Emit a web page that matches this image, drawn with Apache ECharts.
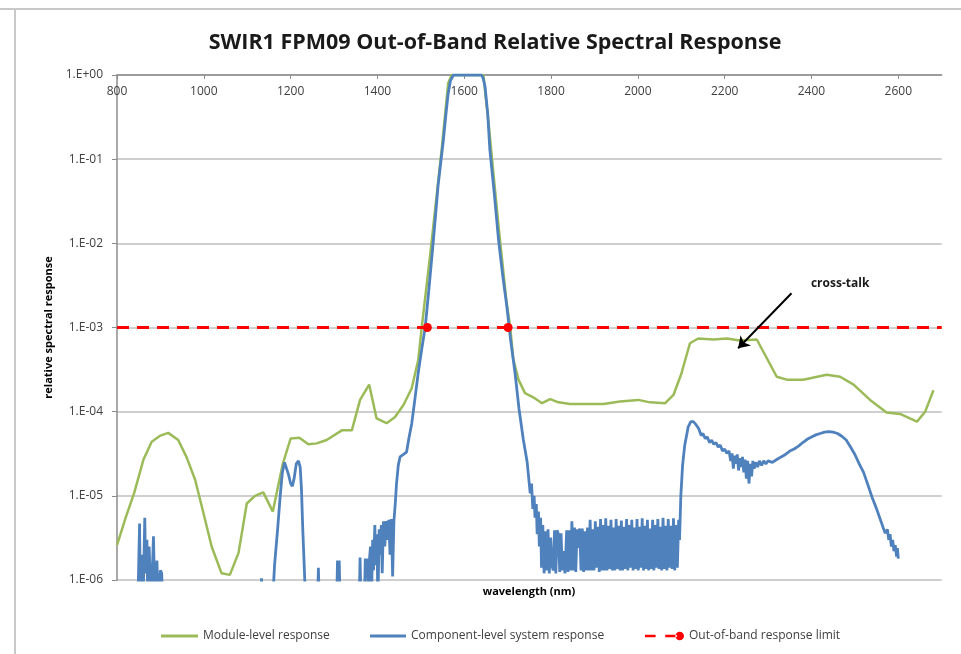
<!DOCTYPE html>
<html>
<head>
<meta charset="utf-8">
<script src="https://cdn.jsdelivr.net/npm/echarts@6/dist/echarts.min.js"></script>
<style>
html,body{margin:0;padding:0;background:#fff;}
#chart{width:961px;height:654px;}
</style>
</head>
<body>
<div id="chart"></div>
<script>
// ---- data (wavelength nm, relative response) ----
const titleText = 'SWIR1 FPM09 Out-of-Band Relative Spectral Response';
const xTickLabels = [800, 1000, 1200, 1400, 1600, 1800, 2000, 2200, 2400, 2600];
const seriesNames = ['Module-level response', 'Component-level system response', 'Out-of-band response limit'];

const moduleLevel = [
  [800,2.6e-6],[820,5.5e-6],[840,1.1e-5],[861,2.7e-5],[880,4.4e-5],[900,5.2e-5],[918,5.6e-5],[941,4.6e-5],
  [960,2.9e-5],[980,1.55e-5],[1000,6.0e-6],[1018,2.5e-6],[1041,1.2e-6],[1060,1.15e-6],[1080,2.1e-6],
  [1099,8.1e-6],[1118,1.0e-5],[1137,1.1e-5],[1159,6.5e-6],[1182,2.4e-5],[1200,4.8e-5],[1220,4.9e-5],
  [1241,4.1e-5],[1260,4.2e-5],[1283,4.6e-5],[1318,6.0e-5],[1341,6.0e-5],[1360,1.38e-4],[1381,2.1e-4],
  [1398,8.3e-5],[1421,7.3e-5],[1440,8.6e-5],[1460,1.2e-4],[1479,1.9e-4],[1494,4.1e-4],[1502,1.0e-3],
  [1521,6.9e-3],[1548,0.13],[1563,0.8],[1571,1.0],[1644,1.0],[1656,0.27],[1679,0.016],[1698,1.9e-3],
  [1706,1.0e-3],[1713,4.2e-4],[1725,2.4e-4],[1740,1.66e-4],[1759,1.48e-4],[1779,1.26e-4],[1798,1.41e-4],
  [1817,1.29e-4],[1844,1.23e-4],[1921,1.23e-4],[1959,1.32e-4],[2001,1.38e-4],[2028,1.29e-4],[2063,1.26e-4],
  [2082,1.58e-4],[2100,2.8e-4],[2120,6.5e-4],[2139,7.4e-4],[2174,7.2e-4],[2205,7.4e-4],[2235,7.0e-4],
  [2274,7.2e-4],[2320,2.6e-4],[2343,2.4e-4],[2381,2.4e-4],[2435,2.75e-4],[2466,2.6e-4],[2497,2.1e-4],
  [2535,1.38e-4],[2573,9.8e-5],[2604,9.4e-5],[2643,7.6e-5],[2662,1.0e-4],[2681,1.8e-4]
];

const componentLevel = [
  [848,5e-7],[852,4.7e-6],[854,5e-7],[858,2e-6],[860,5e-7],[864,5.5e-6],[866,1.2e-6],[869,3e-6],[871,5e-7],
  [874,2.5e-6],[876,1.3e-6],[879,5e-7],[884,3.3e-6],[886,1.1e-6],[889,5e-7],[892,1.7e-6],[895,5e-7],
  [900,1.3e-6],[903,1.2e-6],[905,5e-7],[1132,5e-7],[1133,1.05e-6],[1134,5e-7],
  [1158,5e-7],[1163,1.5e-6],[1170,4e-6],[1176,1e-5],[1181,1.9e-5],[1186,2.5e-5],[1190,2.4e-5],[1195,1.8e-5],
  [1200,1.4e-5],[1204,1.3e-5],[1208,1.6e-5],[1213,2.4e-5],[1218,2.6e-5],[1222,2.2e-5],[1225,1.2e-5],
  [1228,4e-6],[1232,1.2e-6],[1235,5e-7],
  [1262,5e-7],[1264,1.4e-6],[1266,5e-7],[1306,5e-7],[1308,1.7e-6],[1310,5e-7],[1312,1.7e-6],[1314,5e-7],
  [1358,5e-7],[1360,1.85e-6],[1362,5e-7],[1370,5e-7],[1372,1.8e-6],[1374,1.2e-6],[1377,1.8e-6],[1379,5e-7],
  [1381,1.6e-6],[1384,2.5e-6],[1386,5e-7],[1389,3e-6],[1391,1.3e-6],[1394,4.5e-6],[1396,1.5e-6],[1399,3.5e-6],
  [1401,5e-7],[1404,4e-6],[1406,2e-6],[1409,4.5e-6],[1411,1.2e-6],[1414,5e-6],[1417,2.5e-6],[1420,5e-6],
  [1423,3e-6],[1426,5.2e-6],[1429,2e-6],[1432,5.3e-6],[1435,1.1e-6],[1438,5e-6],
  [1441,8e-6],[1444,1.4e-5],[1448,2.3e-5],[1452,2.9e-5],[1460,3.1e-5],[1467,3.3e-5],[1473,5e-5],[1479,7.2e-5],
  [1487,1.5e-4],[1494,2.9e-4],[1502,5.5e-4],[1510,1.0e-3],[1519,3e-3],[1529,1.1e-2],[1540,5e-2],[1552,0.17],
  [1558,0.35],[1563,0.6],[1568,0.85],[1575,1.0],[1590,1.0],[1610,1.0],[1630,1.0],[1640,1.0],[1644,0.9],
  [1648,0.72],[1654,0.35],[1659,0.13],[1669,0.04],[1679,0.011],[1689,0.004],[1698,1.8e-3],[1707,7e-4],
  [1717,2.9e-4],[1726,1.1e-4],[1736,4.7e-5],[1745,2.5e-5],[1752,1.07e-5],
  [1755,1.4e-5],[1758,7e-6],[1761,1.0e-5],[1763,5.5e-6],[1766,8e-6],[1768,3.5e-6],[1771,6.5e-6],[1773,2.5e-6],
  [1776,5.5e-6],[1778,1.4e-6],[1781,4.5e-6],[1784,1.2e-6],[1787,3.8e-6],[1790,1.3e-6],[1793,4e-6],[1796,1.2e-6],
  [1799,3.2e-6],[1802,1.5e-6],[1805,1.3e-6],[1808,3.9e-6],[1811,1.2e-6],[1814,3.9e-6],[1817,3.5e-6],
  [1820,1.25e-6],[1823,3.6e-6],[1826,1.3e-6],[1829,2.2e-6],[1832,1.2e-6],[1836,3.9e-6],[1839,1.25e-6],
  [1842,3.9e-6],[1845,1.3e-6],[1848,5e-6],[1851,1.3e-6],[1854,4.2e-6],[1857,1.25e-6],[1860,4e-6],[1863,2.4e-6],
  [1866,4.1e-6],[1869,1.3e-6],[1872,4.1e-6],[1875,1.25e-6],[1878,3.8e-6],[1881,1.3e-6],[1884,4.2e-6],
  [1887,1.3e-6],[1890,5.2e-6],[1893,1.3e-6],[1896,4e-6],[1899,1.3e-6],[1902,5e-6],[1905,1.4e-6],[1908,4.3e-6],
  [1911,1.25e-6],[1914,5.3e-6],[1917,1.3e-6],[1920,4.5e-6],[1923,1.3e-6],[1926,5.4e-6],[1929,1.3e-6],
  [1932,4.4e-6],[1935,1.35e-6],[1938,5.2e-6],[1941,1.3e-6],[1944,4.2e-6],[1947,1.3e-6],[1950,5.3e-6],
  [1953,1.35e-6],[1956,4.4e-6],[1959,1.3e-6],[1962,5.1e-6],[1965,1.3e-6],[1968,4.3e-6],[1971,1.35e-6],
  [1974,5.3e-6],[1977,1.3e-6],[1980,4.5e-6],[1983,1.4e-6],[1986,5.2e-6],[1989,1.3e-6],[1992,4.2e-6],
  [1995,1.35e-6],[1998,5.3e-6],[2001,1.3e-6],[2004,4.3e-6],[2007,1.4e-6],[2010,5.4e-6],[2013,1.3e-6],
  [2016,4.4e-6],[2019,1.35e-6],[2022,5.2e-6],[2025,1.3e-6],[2028,4.1e-6],[2031,1.35e-6],[2034,5.2e-6],
  [2037,1.3e-6],[2040,4.5e-6],[2043,1.4e-6],[2046,5.3e-6],[2049,1.35e-6],[2052,4.3e-6],[2055,1.3e-6],
  [2058,5.5e-6],[2061,1.35e-6],[2064,4.4e-6],[2067,1.3e-6],[2070,5.3e-6],[2073,1.4e-6],[2076,4.4e-6],
  [2079,1.35e-6],[2082,5.4e-6],[2085,1.3e-6],[2088,4.5e-6],[2091,1.4e-6],[2094,5.2e-6],[2096,3e-6],
  [2099,1e-5],[2103,2.3e-5],[2108,4e-5],[2116,6.6e-5],[2122,7.6e-5],[2128,7.6e-5],[2134,7e-5],[2140,6.3e-5],
  [2146,5.2e-5],[2150,5.5e-5],[2155,4.8e-5],[2160,5e-5],[2165,4.3e-5],[2170,4.6e-5],[2175,4.1e-5],[2180,4.3e-5],
  [2185,3.8e-5],[2190,4e-5],[2195,3.4e-5],[2200,3.6e-5],[2205,3.2e-5],[2210,3.4e-5],[2214,2.6e-5],[2217,3.2e-5],
  [2220,2.1e-5],[2223,3e-5],[2226,2.4e-5],[2229,3.1e-5],[2232,2e-5],[2235,2.8e-5],[2238,2.2e-5],[2241,2.9e-5],
  [2244,1.9e-5],[2247,2.7e-5],[2250,1.6e-5],[2253,2.6e-5],[2256,1.4e-5],[2259,2.4e-5],[2262,1.7e-5],
  [2265,2.6e-5],[2268,2.1e-5],[2272,2.5e-5],[2276,2.2e-5],[2280,2.6e-5],[2285,2.3e-5],[2290,2.6e-5],
  [2295,2.4e-5],[2300,2.6e-5],[2310,2.5e-5],[2320,2.7e-5],[2330,2.9e-5],[2340,3.1e-5],[2350,3.4e-5],
  [2360,3.6e-5],[2370,3.9e-5],[2380,4.3e-5],[2390,4.7e-5],[2400,5e-5],[2410,5.3e-5],[2420,5.5e-5],
  [2430,5.7e-5],[2440,5.8e-5],[2450,5.7e-5],[2460,5.5e-5],[2470,5.1e-5],[2480,4.6e-5],[2490,3.8e-5],
  [2500,3.1e-5],[2510,2.4e-5],[2520,1.9e-5],[2530,1.35e-5],[2540,9.5e-6],[2550,7e-6],[2560,5e-6],
  [2565,4.2e-6],[2570,3.6e-6],[2575,4e-6],[2578,3e-6],[2581,3.5e-6],[2584,2.5e-6],[2587,3e-6],[2590,2.2e-6],
  [2593,2.6e-6],[2596,1.9e-6],[2598,2.4e-6],[2600,1.8e-6]
];

const limitX = [800, 1515, 1701, 2700];
const limitY = [1e-3, 1e-3, 1e-3, 1e-3];
const limitMarkerShown = [false, true, true, false];

const arrowFrom = [2354, 2.55e-3];
const arrowTo = [2231, 5.66e-4];
const annotText = 'cross-talk';
const annotAt = [2466, 3.3e-3];

// ---- chart ----
const FONT = '"Open Sans", "DejaVu Sans", sans-serif';
const chart = echarts.init(document.getElementById('chart'));

const limitData = limitX.map((x, i) => ({
  value: [x, limitY[i]],
  symbolSize: limitMarkerShown[i] ? 9 : 0
}));

function expLabel(v) {
  const e = Math.round(Math.log10(v));
  const s = e < 0 ? '-' : '+';
  const a = Math.abs(e);
  return '1.E' + s + (a < 10 ? '0' : '') + a;
}

const legendText = { fontFamily: FONT, fontSize: 12, color: '#404040' };
const redIcon = 'path://M0,4.2h11v2.6h-11z M21,4.2h12v2.6h-12z M36,1a4.5,4.5 0 1,0 0.01,0z';

const option = {
  animation: false,
  backgroundColor: '#ffffff',
  textStyle: { fontFamily: FONT },
  grid: { left: 117, right: 19.3, top: 75, bottom: 74, show: false },
  legend: [
    { data: [{ name: seriesNames[0], icon: 'rect' }], left: 156, top: 625, itemWidth: 37, itemHeight: 3,
      textStyle: legendText },
    { data: [{ name: seriesNames[1], icon: 'rect' }], left: 365, top: 625, itemWidth: 36, itemHeight: 3,
      textStyle: legendText },
    { data: [{ name: seriesNames[2], icon: redIcon }], left: 640, top: 625, itemWidth: 39, itemHeight: 10,
      textStyle: legendText }
  ],
  xAxis: {
    type: 'value', position: 'top', min: 800, max: 2700, interval: 200,
    axisLine: { show: true, lineStyle: { color: '#8c8c8c', width: 1.5 } },
    axisTick: { show: true, inside: true, length: 4, lineStyle: { color: '#8c8c8c' }, customValues: xTickLabels },
    axisLabel: { inside: true, margin: 11, fontSize: 12, color: '#404040', fontFamily: FONT,
      customValues: xTickLabels, formatter: v => String(v) },
    splitLine: { show: false }
  },
  yAxis: {
    type: 'log', logBase: 10, min: 1e-6, max: 1,
    name: 'relative spectral response', nameLocation: 'middle', nameGap: 62, nameRotate: 90,
    nameTextStyle: { fontSize: 11, fontWeight: 'bold', color: '#000', fontFamily: FONT },
    axisLine: { show: true, lineStyle: { color: '#8c8c8c', width: 1.5 } },
    axisTick: { show: true, inside: false, length: 5, lineStyle: { color: '#8c8c8c' } },
    axisLabel: { margin: 14, fontSize: 12, color: '#404040', fontFamily: FONT, formatter: expLabel },
    splitLine: { show: true, lineStyle: { color: '#bfbfbf', width: 1.5 } },
    minorTick: { show: false }
  },
  series: [
    {
      name: seriesNames[0], type: 'line', data: moduleLevel, symbol: 'none', clip: true,
      lineStyle: { color: '#9bbb59', width: 2.5 }, itemStyle: { color: '#9bbb59' },
      z: 2,
      markLine: {
        silent: true, symbol: ['none', 'arrow'], symbolSize: 11,
        lineStyle: { color: '#000', width: 2, type: 'solid' },
        label: { show: false },
        emphasis: { disabled: true },
        data: [[{ coord: arrowFrom }, { coord: arrowTo }]]
      }
    },
    {
      name: seriesNames[1], type: 'line', data: componentLevel, symbol: 'none', clip: true,
      lineStyle: { color: '#4f81bd', width: 2.8 }, itemStyle: { color: '#4f81bd' },
      z: 3
    },
    {
      name: seriesNames[2], type: 'line', data: limitData, symbol: 'circle', showSymbol: true,
      lineStyle: { color: '#ff0000', width: 3, type: [12, 8] }, itemStyle: { color: '#ff0000' },
      z: 4
    }
  ]
};

chart.setOption(option);

const ap = chart.convertToPixel({ gridIndex: 0 }, annotAt);
chart.setOption({
  graphic: [
    { type: 'line', shape: { x1: 0, y1: 9, x2: 961, y2: 9 }, style: { stroke: '#c8c8c8', lineWidth: 2 }, silent: true },
    { type: 'line', shape: { x1: 15, y1: 9, x2: 15, y2: 654 }, style: { stroke: '#c8c8c8', lineWidth: 2 }, silent: true },
    { type: 'text', x: 495, y: 43, style: { text: titleText, font: 'bold 21.5px ' + FONT, fill: '#1a1a1a',
      textAlign: 'center', textVerticalAlign: 'middle' } },
    { type: 'text', x: 529, y: 592, style: { text: 'wavelength (nm)', font: 'bold 11px ' + FONT, fill: '#000',
      textAlign: 'center', textVerticalAlign: 'middle' } },
    { type: 'text', x: ap[0], y: ap[1], style: { text: annotText, font: 'bold 12px ' + FONT, fill: '#1a1a1a',
      textAlign: 'center', textVerticalAlign: 'middle' } }
  ]
});
</script>
</body>
</html>
